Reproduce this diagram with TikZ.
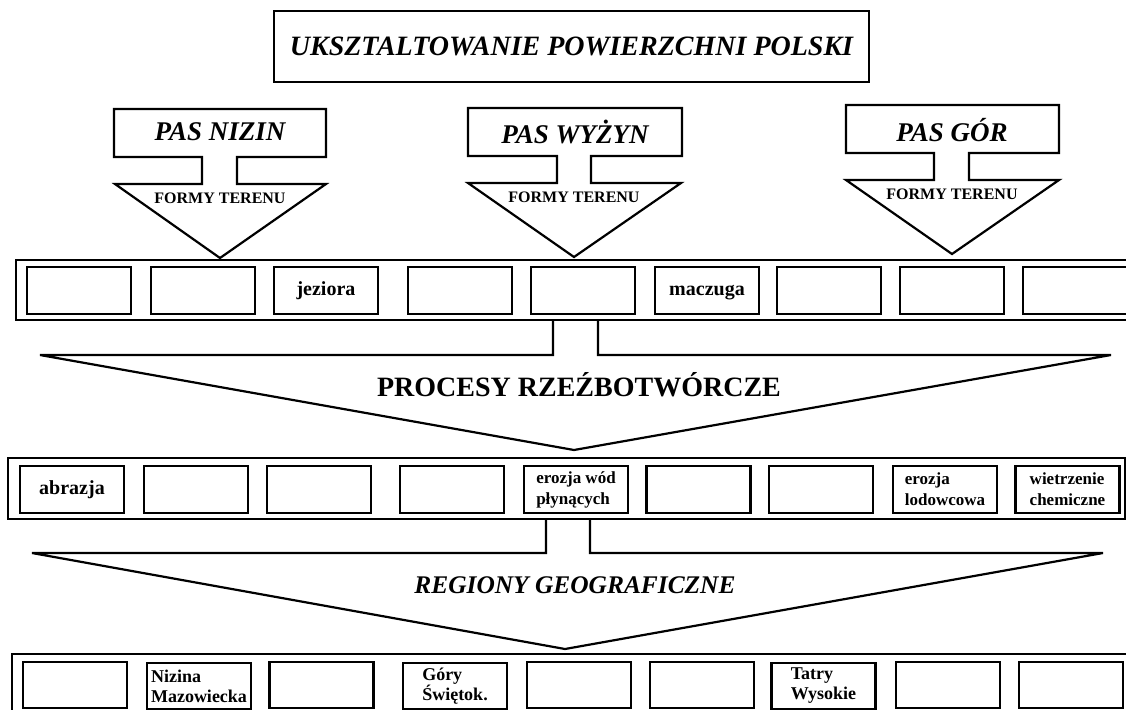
\documentclass[tikz,border=0pt]{standalone}
\usepackage{fontspec}
\setmainfont{Liberation Serif}

\begin{document}
\begin{tikzpicture}[x=0.5pt,y=-0.5pt,line width=1.1pt,line join=miter]
  \tikzstyle{cell}=[draw,rectangle,minimum width=52pt,minimum height=23.5pt,
                    inner sep=0pt,text height=7pt,text depth=2pt,
                    font=\bfseries\fontsize{10}{11}\selectfont]
  \tikzstyle{twoline}=[align=left,text height=,text depth=,
                       font=\bfseries\fontsize{8.5}{10.5}\selectfont]
  \tikzstyle{band}=[font=\bfseries\itshape\fontsize{13.5}{16}\selectfont]
  \tikzstyle{forms}=[font=\bfseries\fontsize{8}{9}\selectfont]
  \tikzstyle{heading}=[font=\bfseries\fontsize{14}{16}\selectfont]

  \useasboundingbox (0,0) rectangle (1126,709);
  \clip (0,0) rectangle (1126,709);

  % title
  \node[draw,minimum width=297.5pt,minimum height=35.5pt,
        font=\bfseries\itshape\fontsize{14}{16}\selectfont] (U) at (571.5,46.5)
        {UKSZTALTOWANIE POWIERZCHNI POLSKI};

  % three belts
  \draw (114,109) -- (326,109) -- (326,157) -- (237,157) -- (237,184) -- (326,184)
        -- (220,258) -- (115,184) -- (202,184) -- (202,157) -- (114,157) -- cycle;
  \node[band]  (N)  at (220,132) {PAS NIZIN};
  \node[forms] (NF) at (220,198) {FORMY TERENU};

  \draw (468,108) -- (682,108) -- (682,156) -- (591,156) -- (591,183) -- (681,183)
        -- (574,257) -- (468,183) -- (557,183) -- (557,156) -- (468,156) -- cycle;
  \node[band]  (W)  at (575,132) {PAS WYŻYN};
  \node[forms] (WF) at (574,197) {FORMY TERENU};

  \draw (846,105) -- (1059,105) -- (1059,153) -- (969,153) -- (969,180) -- (1059,180)
        -- (952,254) -- (846,180) -- (934,180) -- (934,153) -- (846,153) -- cycle;
  \node[band]  (G)  at (952,130) {PAS GÓR};
  \node[forms] (GF) at (952,194) {FORMY TERENU};

  % row of landforms
  \draw (16,260) rectangle (1140,320);
  \node[cell] (F1) at (79,290.5)  {};
  \node[cell] (F2) at (203,290.5) {};
  \node[cell] (F3) at (326,290.5) {jeziora};
  \node[cell] (F4) at (460,290.5) {};
  \node[cell] (F5) at (583,290.5) {};
  \node[cell] (F6) at (707,290.5) {maczuga};
  \node[cell] (F7) at (829,290.5) {};
  \node[cell] (F8) at (952,290.5) {};
  \node[cell] (F9) at (1075,290.5) {};

  \draw (553,320) -- (553,355) -- (40,355) -- (574,450) -- (1111,355) -- (598,355) -- (598,320);
  \node[heading] (P) at (579,385) {PROCESY RZEŹBOTWÓRCZE};

  % row of processes
  \draw (8,458) rectangle (1125,519);
  \node[cell] (P1) at (72,489.5)   {abrazja};
  \node[cell] (P2) at (196,489.5)  {};
  \node[cell] (P3) at (319,489.5)  {};
  \node[cell] (P4) at (452,489.5)  {};
  \node[cell,twoline] (P5) at (576,489.5)  {erozja wód\\płynących};
  \node[cell] (P6) at (698.5,489.5) {};
  \node[cell] (P7) at (821,489.5)  {};
  \node[cell,twoline] (P8) at (945,489.5)  {erozja\\lodowcowa};
  \node[cell,twoline] (P9) at (1067.5,489.5) {wietrzenie\\chemiczne};

  \draw (546,519) -- (546,553) -- (32,553) -- (565,649) -- (1103,553) -- (590,553) -- (590,519);
  \node[heading,font=\bfseries\itshape\fontsize{12.7}{15}\selectfont] (R) at (575,585)
        {REGIONY GEOGRAFICZNE};

  % row of regions
  \draw (12,654) rectangle (1140,730);
  \node[cell,minimum height=23pt] (R1) at (75,685)  {};
  \node[cell,minimum height=23pt,twoline,font=\bfseries\fontsize{9}{10}\selectfont] (R2) at (199,686) {Nizina\\Mazowiecka};
  \node[cell,minimum height=23pt] (R3) at (321.5,685) {};
  \node[cell,minimum height=23pt,twoline,font=\bfseries\fontsize{9}{10}\selectfont] (R4) at (455,686) {Góry\\Świętok.};
  \node[cell,minimum height=23pt] (R5) at (579,685) {};
  \node[cell,minimum height=23pt] (R6) at (702,685) {};
  \node[cell,minimum height=23pt,twoline,font=\bfseries\fontsize{9}{10}\selectfont] (R7) at (823.5,686) {Tatry\\Wysokie};
  \node[cell,minimum height=23pt] (R8) at (948,685) {};
  \node[cell,minimum height=23pt] (R9) at (1071,685) {};
\end{tikzpicture}
\end{document}
